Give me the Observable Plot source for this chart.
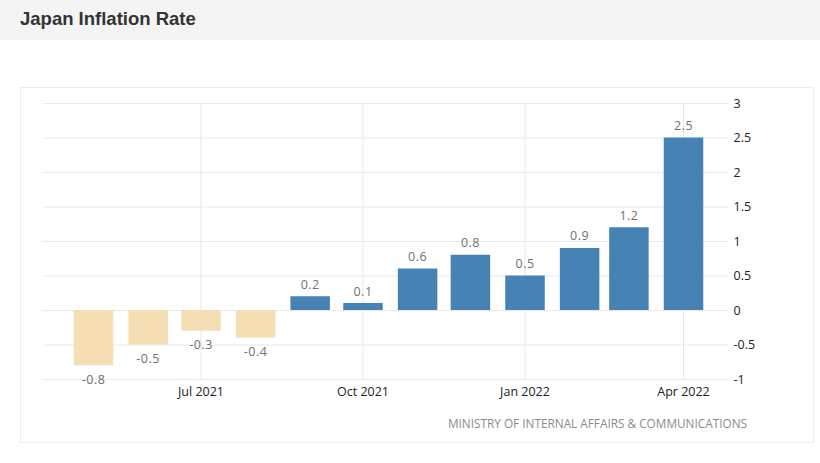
<!DOCTYPE html>
<html>
<head>
<meta charset="utf-8">
<script src="https://cdn.jsdelivr.net/npm/d3@7"></script>
<script src="https://cdn.jsdelivr.net/npm/@observablehq/plot@0.6"></script>
<style>
  html, body { margin: 0; padding: 0; background: #fff; }
  #wrap { position: relative; width: 820px; height: 463px; overflow: hidden; }
  #header { position: absolute; left: 0; top: 0; width: 820px; height: 40px; background: #f4f4f4; }
  #title { position: absolute; left: 20px; top: 10px; font: bold 18.5px "Liberation Sans", Arial, sans-serif; line-height: 1; color: #333; }
  #card { position: absolute; left: 20px; top: 87px; width: 794px; height: 356px; border: 1px solid #eeeeee; box-sizing: border-box; }
  #chart { position: absolute; left: 0; top: 40px; }
  #chart .vlabel text { letter-spacing: 0.5px; }
  #source { position: absolute; right: 73px; top: 417px; font: 11.8px "Open Sans", sans-serif; line-height: 12px; color: #8a8a8a; white-space: nowrap; }
</style>
</head>
<body>
<div id="wrap">
  <div id="header"><div id="title">Japan Inflation Rate</div></div>
  <div id="card"></div>
  <div id="chart"></div>
  <div id="source">MINISTRY OF INTERNAL AFFAIRS &amp; COMMUNICATIONS</div>
</div>
<script>
const months = ["2021-05-01","2021-06-01","2021-07-01","2021-08-01","2021-09-01","2021-10-01",
                "2021-11-01","2021-12-01","2022-01-01","2022-02-01","2022-03-01","2022-04-01"];
const values = [-0.8, -0.5, -0.3, -0.4, 0.2, 0.1, 0.6, 0.8, 0.5, 0.9, 1.2, 2.5];
const xTicks = ["2021-07-01","2021-10-01","2022-01-01","2022-04-01"];
const yTicks = [-1, -0.5, 0, 0.5, 1, 1.5, 2, 2.5, 3];

const data = months.map((m, i) => ({date: new Date(m + "T00:00:00Z"), value: values[i]}));
const fmt = d => String(d);
const xTickDates = xTicks.map(d => new Date(d + "T00:00:00Z"));

const chart = Plot.plot({
  width: 820,
  height: 423,
  marginLeft: 43,
  marginRight: 92,
  marginTop: 63,
  marginBottom: 84,
  style: {fontFamily: "'Open Sans', sans-serif", fontSize: "12.5px", color: "#222", background: "transparent"},
  x: {type: "utc", label: null, domain: [new Date("2021-04-02T14:00:00Z"), new Date("2022-04-26T13:00:00Z")]},
  y: {label: null, domain: [-1, 3]},
  marks: [
    Plot.gridY(yTicks, {stroke: "#e8e8e8", strokeOpacity: 1}),
    Plot.gridX(xTickDates, {stroke: "#e8e8e8", strokeOpacity: 1}),
    Plot.ruleX(data, {x: "date", y1: 0, y2: "value", strokeWidth: 39.5,
      stroke: d => d.value < 0 ? "neg" : "pos"}),
    Plot.text(data.filter(d => d.value >= 0), {x: "date", y: "value", text: d => fmt(d.value),
      dy: -8, lineAnchor: "bottom", fill: "#707070", fontSize: 12.5, className: "vlabel"}),
    Plot.text(data.filter(d => d.value < 0), {x: "date", y: "value", text: d => fmt(d.value),
      dy: 9, lineAnchor: "top", fill: "#707070", fontSize: 12.5, className: "vlabel"}),
    Plot.axisY(yTicks, {anchor: "right", label: null, tickSize: 0, tickPadding: 5, tickFormat: fmt, fill: "#222", fontSize: 12.5}),
    Plot.axisX(xTickDates, {anchor: "bottom", label: null, tickSize: 0, tickPadding: 8,
      tickFormat: d3.utcFormat("%b %Y"), fill: "#222", fontSize: 12.5})
  ],
  color: {domain: ["neg", "pos"], range: ["#f5deb3", "#4682b4"]}
});
document.getElementById("chart").appendChild(chart);
</script>
</body>
</html>
